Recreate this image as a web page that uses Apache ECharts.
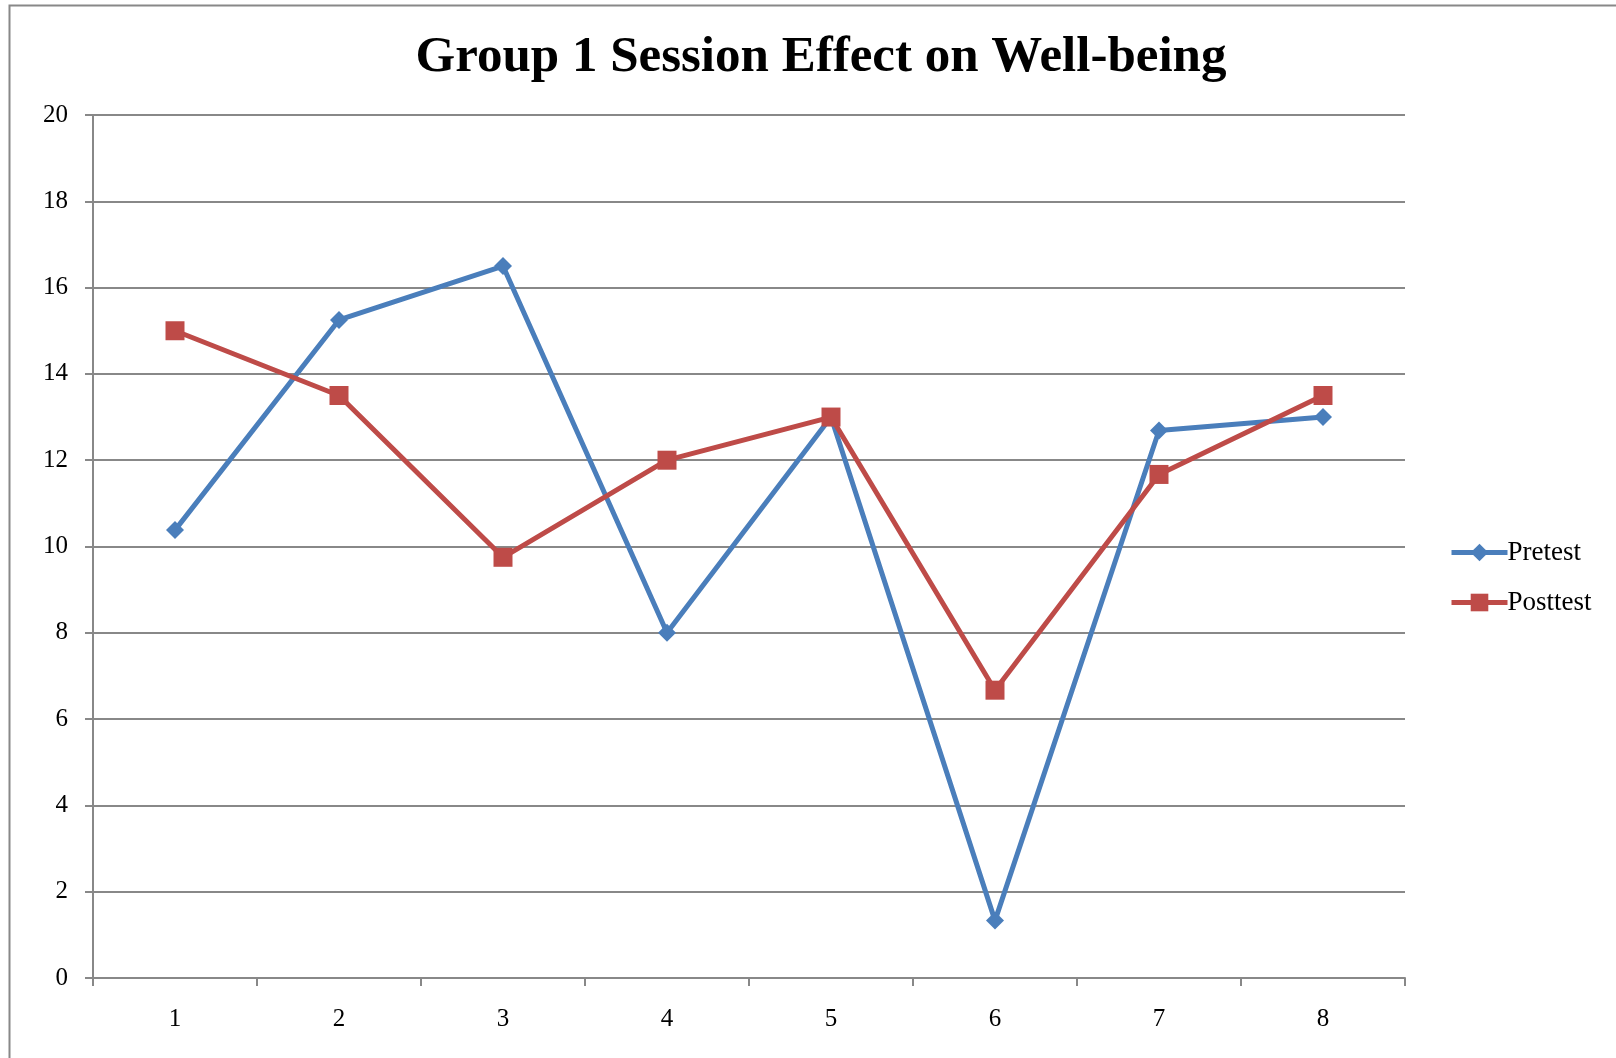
<!DOCTYPE html>
<html><head><meta charset="utf-8">
<script src="https://cdn.jsdelivr.net/npm/echarts@6/dist/echarts.min.js"></script>
<style>html,body{margin:0;padding:0;background:#fff}#c{width:1616px;height:1058px}</style>
</head><body><div id="c"></div>
<script>
const categories = ['1','2','3','4','5','6','7','8'];
const pretest = [10.38, 15.25, 16.5, 8.0, 13.0, 1.33, 12.69, 13.0];
const posttest = [15.0, 13.5, 9.75, 12.0, 13.0, 6.67, 11.67, 13.5];
const seriesNames = ['Pretest', 'Posttest'];
const titleText = 'Group 1 Session Effect on Well-being';

const font = 'Liberation Serif';
const chart = echarts.init(document.getElementById('c'));
chart.setOption({
  animation: false,
  backgroundColor: '#fff',
  graphic: [{type:'rect', shape:{x:9.5,y:5.5,width:1800,height:1200}, style:{fill:'none', stroke:'#888', lineWidth:2}, silent:true}],
  title: {text: titleText, left: 816, top: 27, textAlign: 'center',
    textStyle: {fontFamily: font, fontWeight: 'bold', fontSize: 51, color: '#000'}},
  grid: {left: 93, top: 115, right: 211, bottom: 80},
  legend: {orient: 'vertical', left: 1444, top: 534, itemWidth: 56, itemHeight: 22, itemGap: 23,
    lineStyle: {width: 5},
    textStyle: {fontFamily: font, fontSize: 27, color: '#000', padding:[0,0,0,-5]}, data: seriesNames},
  xAxis: {type: 'category', data: categories, boundaryGap: true,
    axisLine: {lineStyle: {color: '#888', width: 2}},
    axisTick: {show: true, interval: 0, length: 8, lineStyle: {color: '#888', width: 2}},
    axisLabel: {fontFamily: font, fontSize: 25, color: '#000', margin: 29}},
  yAxis: {type: 'value', min: 0, max: 20, interval: 2,
    axisLine: {show: true, lineStyle: {color: '#888', width: 2}},
    axisTick: {show: true, length: 8, lineStyle: {color: '#888', width: 2}},
    splitLine: {lineStyle: {color: '#888', width: 2}},
    axisLabel: {fontFamily: font, fontSize: 25, color: '#000', margin: 25}},
  series: [
    {name: seriesNames[0], type: 'line', data: pretest, symbol: 'diamond', symbolSize: 18,
      lineStyle: {color: '#4A7EBB', width: 5}, itemStyle: {color: '#4A7EBB'}},
    {name: seriesNames[1], type: 'line', data: posttest, symbol: 'rect', symbolSize: 19,
      lineStyle: {color: '#BE4B48', width: 5}, itemStyle: {color: '#BE4B48'}}
  ]
});
</script></body></html>
